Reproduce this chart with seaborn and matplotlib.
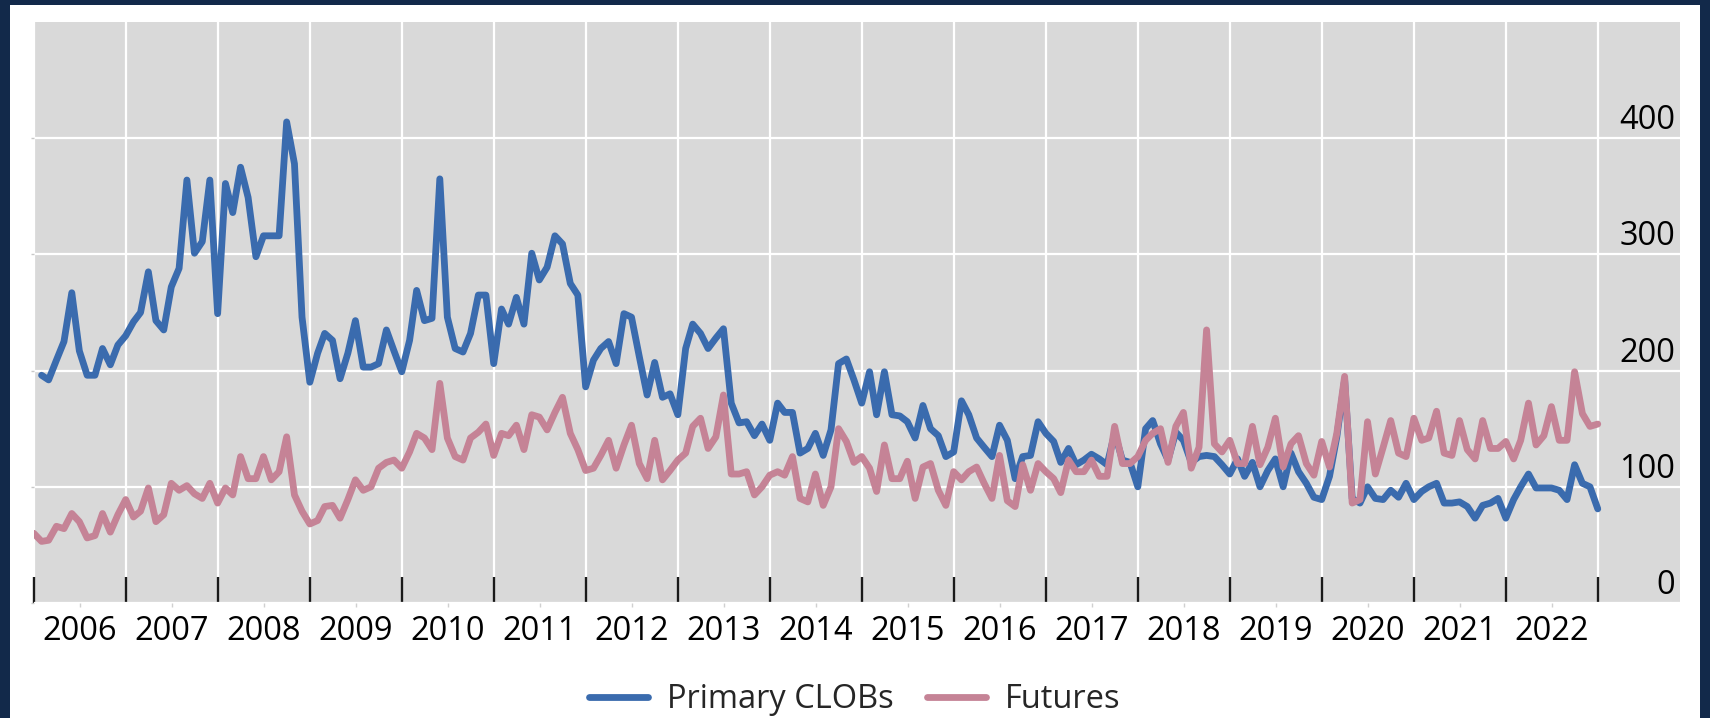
import numpy as np
import pandas as pd
import matplotlib
matplotlib.use("Agg")
import matplotlib.pyplot as plt
import matplotlib.dates as mdates
import matplotlib.transforms as mtransforms
from matplotlib.patches import Rectangle
from matplotlib.ticker import FixedLocator, FixedFormatter, NullFormatter
import seaborn as sns

# ---------------- data (monthly, end of month) ----------------
dates = pd.date_range("2005-12-31", "2022-12-31", freq="ME")

primary_clobs = [
    np.nan,
    196, 192, 209, 225, 267, 217, 196, 196, 219, 205, 222, 230,   # 2006
    242, 250, 285, 243, 235, 272, 288, 364, 301, 311, 364, 249,   # 2007
    361, 336, 375, 349, 298, 316, 316, 316, 414, 378, 246, 190,   # 2008
    215, 232, 226, 193, 215, 243, 203, 203, 206, 235, 217, 199,   # 2009
    226, 269, 243, 245, 365, 246, 219, 216, 232, 265, 265, 206,   # 2010
    253, 240, 263, 240, 301, 278, 289, 316, 309, 275, 265, 186,   # 2011
    209, 219, 225, 206, 249, 246, 212, 179, 207, 177, 180, 162,   # 2012
    219, 240, 232, 219, 228, 236, 172, 155, 156, 144, 154, 140,   # 2013
    172, 164, 164, 129, 133, 146, 127, 149, 206, 210, 192, 172,   # 2014
    199, 162, 199, 162, 161, 156, 142, 170, 150, 144, 126, 130,   # 2015
    174, 162, 142, 134, 126, 153, 140, 107, 126, 127, 156, 146,   # 2016
    139, 121, 133, 119, 123, 128, 124, 119, 146, 123, 121, 100,   # 2017
    150, 157, 137, 123, 147, 140, 121, 126, 127, 126, 119, 111,   # 2018
    124, 109, 121, 100, 114, 124, 100, 129, 113, 103, 91, 89,     # 2019
    109, 143, 192, 90, 86, 100, 90, 89, 97, 91, 103, 89,          # 2020
    96, 100, 103, 86, 86, 87, 83, 73, 84, 86, 90, 73,             # 2021
    89, 100, 111, 99, 99, 99, 97, 89, 119, 103, 100, 81,          # 2022
]

futures = [
    60,
    53, 54, 66, 64, 77, 70, 56, 58, 77, 61, 76, 89,               # 2006
    74, 79, 99, 70, 76, 103, 97, 101, 94, 90, 103, 86,            # 2007
    99, 93, 126, 107, 107, 126, 106, 113, 143, 93, 79, 68,        # 2008
    71, 83, 84, 73, 89, 106, 97, 100, 116, 121, 123, 116,         # 2009
    130, 146, 142, 132, 189, 142, 126, 123, 142, 147, 154, 127,   # 2010
    146, 144, 153, 132, 162, 160, 149, 164, 177, 146, 132, 114,   # 2011
    116, 127, 140, 116, 136, 153, 120, 107, 140, 106, 114, 123,   # 2012
    129, 152, 159, 133, 143, 179, 111, 111, 113, 93, 100, 110,    # 2013
    113, 110, 126, 90, 87, 111, 84, 100, 150, 139, 121, 126,      # 2014
    116, 96, 136, 107, 107, 122, 90, 117, 120, 97, 84, 113,       # 2015
    106, 113, 117, 103, 90, 127, 88, 83, 119, 97, 120, 113,       # 2016
    107, 95, 123, 113, 113, 123, 109, 109, 152, 120, 120, 126,    # 2017
    140, 146, 150, 121, 152, 164, 116, 134, 235, 137, 130, 140,   # 2018
    120, 120, 152, 119, 134, 159, 117, 137, 144, 120, 110, 139,   # 2019
    117, 146, 195, 86, 89, 156, 111, 134, 157, 129, 126, 159,     # 2020
    140, 142, 165, 129, 127, 157, 132, 124, 157, 133, 133, 139,   # 2021
    124, 140, 172, 136, 144, 169, 140, 140, 199, 163, 152, 154,   # 2022
]

series_names = ["Primary CLOBs", "Futures"]
series_colors = ["#3a6bae", "#c58396"]
years = list(range(2006, 2024))
year_labels = [str(y) for y in range(2006, 2023)]
y_ticks = [0, 100, 200, 300, 400]
y_limits = (0, 500)

# ---------------- style ----------------
sns.set_style("darkgrid", {"axes.facecolor": "#d9d9d9", "grid.color": "white"})
plt.rcParams["font.family"] = ["Open Sans", "DejaVu Sans"]

FS = 23.5
LW = 4.9
W, H = 1710, 718
fig = plt.figure(figsize=(W / 100, H / 100), dpi=100)
fig.patch.set_facecolor("white")

# navy frame around the figure
navy = "#12294a"
fig.patches.append(Rectangle((0, 0), 1, 1, transform=fig.transFigure,
                             facecolor=navy, edgecolor="none", zorder=-20))
bl, bt, br = 10, 5, 10
fig.patches.append(Rectangle((bl / W, 0), (W - bl - br) / W, (H - bt) / H,
                             transform=fig.transFigure, facecolor="white",
                             edgecolor="none", zorder=-19))

ax = fig.add_axes([34 / W, 115 / H, 1646 / W, 581 / H])

df = pd.DataFrame({"date": dates,
                   series_names[0]: primary_clobs,
                   series_names[1]: futures})
long = df.melt("date", var_name="series", value_name="value").dropna()

sns.lineplot(data=long, x="date", y="value", hue="series",
             hue_order=series_names, palette=series_colors,
             linewidth=LW, ax=ax, legend=True)

# axes limits
x0 = mdates.date2num(pd.Timestamp("2006-01-01"))
x1 = mdates.date2num(pd.Timestamp("2023-01-01"))
ax.set_xlim(x0, x1 + (x1 - x0) / 17 * 0.891)
ax.set_ylim(*y_limits)

# x ticks: year boundaries (major), labels mid-year (minor)
major_pos = [mdates.date2num(pd.Timestamp(f"{y}-01-01")) for y in years]
minor_pos = [mdates.date2num(pd.Timestamp(f"{y}-07-01")) for y in year_labels]
ax.xaxis.set_major_locator(FixedLocator(major_pos))
ax.xaxis.set_major_formatter(NullFormatter())
ax.xaxis.set_minor_locator(FixedLocator(minor_pos))
ax.xaxis.set_minor_formatter(FixedFormatter(year_labels))
ax.tick_params(axis="x", which="major", bottom=True, direction="in",
               length=19, width=1.7, color="#1a1a1a")
ax.tick_params(axis="x", which="minor", bottom=True, direction="out",
               length=3, width=1, color="#d0d0d0", labelsize=FS,
               labelcolor="black", pad=5.5)
ax.grid(True, which="major", color="white", linewidth=1.6)
ax.grid(False, which="minor")

# y ticks: grid + labels drawn inside on the right, above the gridlines
ax.set_yticks(y_ticks)
ax.set_yticklabels([])
ax.tick_params(axis="y", left=True, direction="out", length=2, width=1,
               color="#c8c8c8")
trans = mtransforms.offset_copy(ax.get_yaxis_transform(), fig=fig,
                                x=-5, y=9, units="dots")
for v in y_ticks:
    ax.text(1.0, v, str(v), transform=trans, ha="right", va="baseline",
            fontsize=FS, color="black")

ax.set_xlabel("")
ax.set_ylabel("")
for s in ax.spines.values():
    s.set_visible(False)

# legend at the bottom
sns.move_legend(ax, "center", bbox_to_anchor=(0.5, 18 / H),
                bbox_transform=fig.transFigure, ncol=2, frameon=False,
                title=None, fontsize=FS, handlelength=1.8,
                handletextpad=0.6, columnspacing=1.0)
leg = ax.get_legend()
for h in leg.legend_handles:
    h.set_linewidth(LW)

fig.savefig("out.png", dpi=100, facecolor=fig.get_facecolor())
